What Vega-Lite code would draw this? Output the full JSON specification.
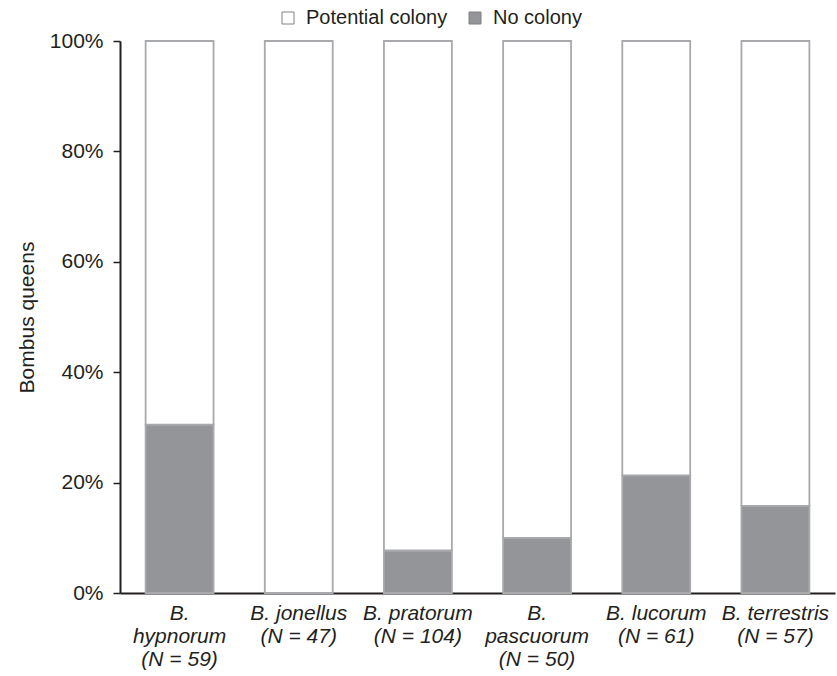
{
  "$schema": "https://vega.github.io/schema/vega-lite/v6.json",
  "width": 715,
  "height": 552,
  "autosize": {"type": "none"},
  "padding": {"left": 120, "top": 41, "right": 2, "bottom": 83},
  "background": "white",
  "config": {
    "view": {"stroke": null},
    "font": "Liberation Sans",
    "axis": {"labelFont": "Liberation Sans", "titleFont": "Liberation Sans", "labelColor": "#231f20", "titleColor": "#231f20", "domainColor": "#231f20", "tickColor": "#231f20", "grid": false}
  },
  "data": {
    "values": [
      {"species": "B.|hypnorum|(N = 59)", "status": "No colony", "ord": 1, "share": 0.305},
      {"species": "B.|hypnorum|(N = 59)", "status": "Potential colony", "ord": 2, "share": 0.695},
      {"species": "B. jonellus|(N = 47)", "status": "No colony", "ord": 1, "share": 0.0},
      {"species": "B. jonellus|(N = 47)", "status": "Potential colony", "ord": 2, "share": 1.0},
      {"species": "B. pratorum|(N = 104)", "status": "No colony", "ord": 1, "share": 0.077},
      {"species": "B. pratorum|(N = 104)", "status": "Potential colony", "ord": 2, "share": 0.923},
      {"species": "B.|pascuorum|(N = 50)", "status": "No colony", "ord": 1, "share": 0.10},
      {"species": "B.|pascuorum|(N = 50)", "status": "Potential colony", "ord": 2, "share": 0.90},
      {"species": "B. lucorum|(N = 61)", "status": "No colony", "ord": 1, "share": 0.213},
      {"species": "B. lucorum|(N = 61)", "status": "Potential colony", "ord": 2, "share": 0.787},
      {"species": "B. terrestris|(N = 57)", "status": "No colony", "ord": 1, "share": 0.158},
      {"species": "B. terrestris|(N = 57)", "status": "Potential colony", "ord": 2, "share": 0.842}
    ]
  },
  "mark": {"type": "bar", "stroke": "#a7a9ac", "strokeWidth": 1.8},
  "encoding": {
    "x": {
      "field": "species",
      "type": "nominal",
      "sort": null,
      "scale": {"paddingInner": 0.43, "paddingOuter": 0.215},
      "axis": {
        "title": null,
        "labelAngle": 0,
        "ticks": false,
        "labelExpr": "split(datum.label, '|')",
        "labelFontSize": 21,
        "labelFontStyle": "italic",
        "labelLineHeight": 23,
        "labelPadding": 9,
        "labelOverlap": false,
        "domainWidth": 2
      }
    },
    "y": {
      "field": "share",
      "type": "quantitative",
      "stack": "zero",
      "scale": {"domain": [0, 1], "nice": false},
      "axis": {
        "title": "Bombus queens",
        "format": ".0%",
        "values": [0, 0.2, 0.4, 0.6, 0.8, 1],
        "labelFontSize": 21,
        "titleFontSize": 21,
        "titleFontWeight": "normal",
        "tickSize": 7,
        "tickWidth": 1.5,
        "labelPadding": 10,
        "titlePadding": 12,
        "domainWidth": 2
      }
    },
    "order": {"field": "ord", "type": "quantitative"},
    "color": {
      "field": "status",
      "type": "nominal",
      "scale": {"domain": ["Potential colony", "No colony"], "range": ["#ffffff", "#939598"]},
      "legend": {
        "title": null,
        "orient": "none",
        "direction": "horizontal",
        "legendX": 158,
        "legendY": -33,
        "symbolType": "square",
        "symbolSize": 144,
        "symbolStrokeColor": "#808080",
        "symbolStrokeWidth": 1,
        "labelFontSize": 20,
        "labelColor": "#231f20",
        "columnPadding": 17,
        "labelOffset": 8
      }
    }
  }
}
